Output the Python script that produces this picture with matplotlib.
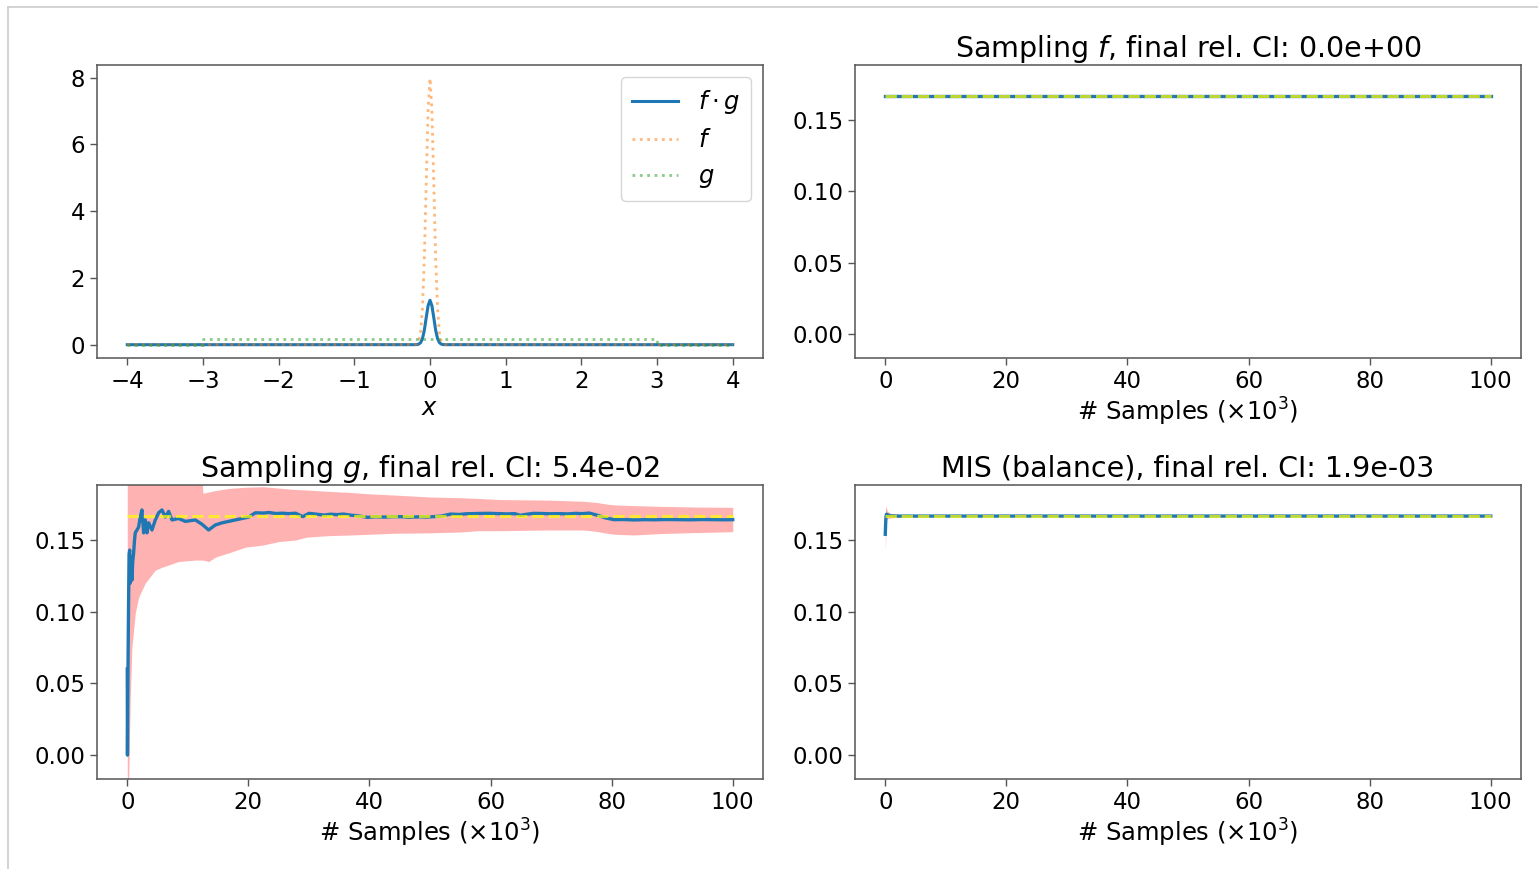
import matplotlib
matplotlib.use("Agg")
import matplotlib.pyplot as plt
from matplotlib.lines import Line2D

plt.rcParams['font.family'] = ['DejaVu Sans']
plt.rcParams['mathtext.fontset'] = 'dejavusans'

# ---------------- data ----------------
# top-left: integrand curves
x_curve = [-4.0, -3.0, -3.0, -0.2, -0.175, -0.15, -0.125, -0.1, -0.075, -0.05, -0.025, 0.0,
           0.025, 0.05, 0.075, 0.1, 0.125, 0.15, 0.175, 0.2, 3.0, 3.0, 4.0]
f_vals = [0.0, 0.0, 0.0, 0.003, 0.02, 0.09, 0.35, 1.08, 2.59, 4.84, 7.04, 7.98,
          7.04, 4.84, 2.59, 1.08, 0.35, 0.09, 0.02, 0.003, 0.0, 0.0, 0.0]
g_vals = [0.0, 0.0, 0.1667, 0.1667, 0.1667, 0.1667, 0.1667, 0.1667, 0.1667, 0.1667, 0.1667, 0.1667,
          0.1667, 0.1667, 0.1667, 0.1667, 0.1667, 0.1667, 0.1667, 0.1667, 0.1667, 0.0, 0.0]
fg_vals = [0.0, 0.0, 0.0, 0.0005, 0.003, 0.015, 0.06, 0.18, 0.43, 0.81, 1.17, 1.33,
           1.17, 0.81, 0.43, 0.18, 0.06, 0.015, 0.003, 0.0005, 0.0, 0.0, 0.0]

true_value = 0.1667

# top-right: sampling f
f_x = [0, 100]
f_est = [0.1667, 0.1667]

# bottom-left: sampling g  (x in thousands of samples)
g_x = [0.0, 0.03, 0.1, 0.2, 0.3, 0.4, 0.5, 0.6, 0.77, 0.9, 1.05, 1.2, 1.32, 1.6, 1.87, 2.1,
       2.42, 2.7, 2.98, 3.25, 3.53, 4.08, 4.63, 5.18, 5.73, 6.28, 6.83, 7.38, 8.48, 9.59,
       11.24, 12.34, 13.44, 14.55, 15.65, 16.75, 18.4, 20.05, 21.16, 22.5, 23.4, 24.5, 25.6,
       26.7, 27.8, 29.0, 30.0, 31.3, 32.5, 33.6, 34.6, 35.7, 36.8, 38.2, 39.7, 41.0, 42.5,
       44.0, 45.1, 46.6, 48.3, 49.5, 50.6, 51.9, 53.4, 54.8, 56.0, 57.0, 58.9, 60.0, 61.3,
       62.7, 64.0, 64.9, 66.0, 67.1, 68.4, 69.8, 71.3, 72.7, 74.1, 75.2, 76.3, 77.7, 78.9,
       80.4, 82.0, 83.7, 85.5, 87.0, 89.0, 91.0, 93.0, 95.0, 97.0, 98.5, 100.0]
g_est = [0.06, 0.0, 0.05, 0.10, 0.14, 0.143, 0.12, 0.138, 0.122, 0.135, 0.141, 0.150, 0.155,
         0.157, 0.159, 0.165, 0.171, 0.155, 0.164, 0.155, 0.162, 0.157, 0.164, 0.169, 0.171,
         0.166, 0.170, 0.164, 0.165, 0.163, 0.164, 0.161, 0.157, 0.1605, 0.162, 0.163, 0.1645,
         0.166, 0.169, 0.1688, 0.1692, 0.1685, 0.1687, 0.1684, 0.1687, 0.1663, 0.1686, 0.1680,
         0.1674, 0.1680, 0.1677, 0.1681, 0.1674, 0.1668, 0.1658, 0.1662, 0.1660, 0.1663, 0.1663,
         0.1659, 0.1662, 0.1660, 0.1663, 0.1667, 0.1681, 0.1678, 0.1683, 0.1684, 0.1686, 0.1686,
         0.1684, 0.1682, 0.1684, 0.1672, 0.1680, 0.1686, 0.1685, 0.1683, 0.1684, 0.1682, 0.1686,
         0.1684, 0.1688, 0.1672, 0.1655, 0.1642, 0.1643, 0.1640, 0.1642, 0.1641, 0.1643, 0.1642,
         0.1641, 0.1643, 0.1642, 0.1641, 0.1642]
g_band_x = [0.0, 0.22, 0.5, 0.77, 1.32, 1.87, 2.98, 4.63, 5.73, 8.48, 11.24, 12.3, 12.5, 13.44,
            14.55, 15.2, 16.75, 19.5, 22.4, 25.0, 27.8, 29.6, 33.0, 36.8, 40.0, 44.0, 50.0, 55.0,
            58.0, 61.6, 66.0, 70.0, 75.4, 77.5, 79.3, 80.5, 83.7, 88.0, 94.0, 100.0]
g_band_lo = [-0.05, -0.02, 0.041, 0.075, 0.099, 0.110, 0.120, 0.129, 0.131, 0.135, 0.136,
             0.136, 0.136, 0.135, 0.138, 0.139, 0.141, 0.145, 0.1465, 0.1489, 0.150, 0.152,
             0.1530, 0.1535, 0.1540, 0.1547, 0.1550, 0.1556, 0.1565, 0.1565, 0.1568, 0.1570,
             0.1570, 0.1560, 0.1547, 0.1540, 0.1535, 0.1545, 0.1552, 0.1558]
g_band_hi = [0.40, 0.35, 0.30, 0.28, 0.26, 0.25, 0.235, 0.225, 0.22, 0.21, 0.20, 0.195, 0.1826,
             0.1835, 0.1845, 0.1849, 0.1860, 0.1868, 0.1872, 0.1862, 0.1852, 0.1849, 0.1840,
             0.1832, 0.1822, 0.1814, 0.1800, 0.1795, 0.1790, 0.1782, 0.1780, 0.1778, 0.1770,
             0.1762, 0.1750, 0.1745, 0.1740, 0.1735, 0.1730, 0.1728]

# bottom-right: MIS (balance)
m_x = [0.0, 0.05, 0.1, 0.2, 0.4, 0.7, 1.0, 2.0, 5.0, 10.0, 20.0, 50.0, 100.0]
m_est = [0.154, 0.160, 0.1655, 0.1680, 0.1675, 0.1670, 0.1668, 0.1667, 0.1667, 0.1667,
         0.1667, 0.1667, 0.1667]
m_band_lo = [0.143, 0.148, 0.157, 0.164, 0.165, 0.1652, 0.1655, 0.1658, 0.1662, 0.1664,
             0.1665, 0.1666, 0.1664]
m_band_hi = [0.165, 0.172, 0.174, 0.172, 0.170, 0.169, 0.1685, 0.168, 0.1675, 0.1672,
             0.1670, 0.1669, 0.1670]

titles = ["Sampling $f$, final rel. CI: 0.0e+00",
          "Sampling $g$, final rel. CI: 5.4e-02",
          "MIS (balance), final rel. CI: 1.9e-03"]
conv_yticks = [0.00, 0.05, 0.10, 0.15]
conv_xticks = [0, 20, 40, 60, 80, 100]
xlabel_samples = "# Samples ($\\times 10^3$)"

# ---------------- figure ----------------
FS = 16.5
FS_LABEL = 17.5
FS_TITLE = 20.5
fig = plt.figure(figsize=(15.38, 8.69), dpi=100)
W, H = 1538, 869

def add_ax(l, t, r, b):
    return fig.add_axes([l / W, 1 - b / H, (r - l) / W, (b - t) / H])

ax_tl = add_ax(97, 65, 763, 358)
ax_tr = add_ax(855, 65, 1521, 358)
ax_bl = add_ax(97, 485, 763, 779)
ax_br = add_ax(855, 485, 1521, 779)

for ax in (ax_tl, ax_tr, ax_bl, ax_br):
    for s in ax.spines.values():
        s.set_color('#555555')
        s.set_linewidth(1.1)
    ax.tick_params(labelsize=FS, length=5, width=1, color='#555555')

# top-left
ax_tl.plot(x_curve, fg_vals, color='tab:blue', lw=2.2, label='$f \\cdot g$')
ax_tl.plot(x_curve, f_vals, color='tab:orange', lw=2, ls=':', alpha=0.55, label='$f$')
ax_tl.plot(x_curve, g_vals, color='tab:green', lw=2, ls=':', alpha=0.55, label='$g$')
ax_tl.set_xticks([-4, -3, -2, -1, 0, 1, 2, 3, 4])
ax_tl.set_yticks([0, 2, 4, 6, 8])
ax_tl.set_xlabel('$x$', fontsize=FS_LABEL, labelpad=2.5)
leg = ax_tl.legend(loc='upper right', fontsize=FS_LABEL, handlelength=1.9,
                   framealpha=0.8, borderpad=0.45)

ylo, yhi = -0.1 * true_value, 1.13 * true_value

def conv(ax, xs, est, lo=None, hi=None, bx=None, title=""):
    if lo is not None:
        ax.fill_between(bx, lo, hi, color='red', alpha=0.3, lw=0)
    ax.plot(xs, est, color='tab:blue', lw=2.4)
    ax.plot([0, 100], [true_value, true_value], color='yellow', ls='--', lw=2.2, alpha=0.7)
    ax.set_ylim(ylo, yhi)
    ax.set_xlim(-5, 105)
    ax.set_yticks(conv_yticks)
    ax.set_yticklabels(["%.2f" % v for v in conv_yticks])
    ax.set_xticks(conv_xticks)
    ax.set_xlabel(xlabel_samples, fontsize=FS_LABEL, labelpad=2.5)
    ax.set_title(title, fontsize=FS_TITLE, pad=6)

conv(ax_tr, f_x, f_est, title=titles[0])
conv(ax_bl, g_x, g_est, g_band_lo, g_band_hi, g_band_x, title=titles[1])
conv(ax_br, m_x, m_est, m_band_lo, m_band_hi, m_x, title=titles[2])

# page border around the figure image
fig.add_artist(Line2D([8 / W, 1], [1 - 7 / H, 1 - 7 / H], transform=fig.transFigure,
                      color='#cccccc', lw=1.2))
fig.add_artist(Line2D([8 / W, 8 / W], [0, 1 - 7 / H], transform=fig.transFigure,
                      color='#cccccc', lw=1.2))

fig.savefig('out.png', dpi=100)
